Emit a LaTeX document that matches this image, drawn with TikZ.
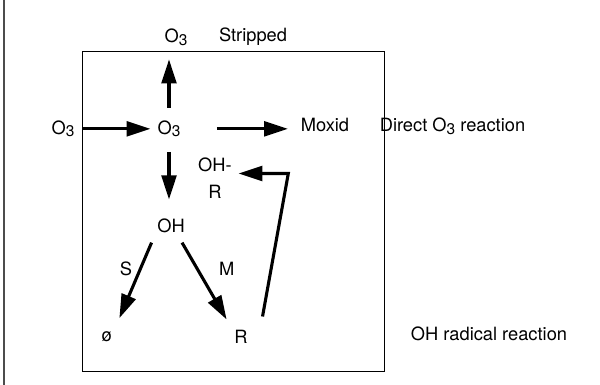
\documentclass[tikz,border=0pt]{standalone}
\usepackage{fontspec}
\setmainfont{TeX Gyre Heros}
\usetikzlibrary{arrows.meta}
\newcommand{\Othree}{O\raisebox{-1.5pt}{\fontsize{11}{13}\selectfont 3}}
\begin{document}
\begin{tikzpicture}[x=0.025cm,y=-0.025cm,
  every node/.style={font=\fontsize{13}{15.6}\selectfont,inner sep=2pt},
  lbl/.style={anchor=base},
  arr/.style={-{Triangle[length=17pt,width=10.5pt]},line width=2.2pt}]
  \useasboundingbox (0,0) rectangle (600,385);
  \draw[line width=0.8pt,black!70] (4,0) -- (4,385);
  \draw[line width=0.7pt] (82,51.7) rectangle (384.3,371);
  \node[lbl] (ostrip) at (176,43) {\Othree};
  \node[lbl] (stripped) at (253,42) {Stripped};
  \node[lbl] (o3in) at (63,134.5) {\Othree};
  \node[lbl] (o3c) at (169,134.5) {\Othree};
  \node[lbl] (moxid) at (325,132) {Moxid};
  \node[lbl] (direct) at (452.5,132) {Direct \Othree{} reaction};
  \node[align=center] (ohr) at (215,177.9) {OH-\\[3.6pt]R};
  \node[lbl] (oh) at (171,233) {OH};
  \node[lbl] (slab) at (126,276) {S};
  \node[lbl] (mlab) at (226.7,276) {M};
  \node[lbl] (phi) at (106.7,341.7) {ø};
  \node[lbl] (rr) at (241,344) {R};
  \node[lbl] (ohrad) at (489,341) {OH radical reaction};
  \coordinate (bend) at (288.3,173.5);
  \draw[arr,shorten <=3.2pt,shorten >=2.8pt] (o3in.east) -- (o3c.west);
  \draw[arr,shorten <=23.7pt,shorten >=7pt] (o3c.east) -- (o3c.east -| moxid.west);
  \draw[arr,shorten <=7pt,shorten >=7.8pt] (o3c.north) -- (o3c.north |- ostrip.south);
  \draw[arr,shorten <=8.5pt,shorten >=12pt] (o3c.south) -- (o3c.south |- oh.north);
  \draw[arr,shorten <=4.8pt,shorten >=8.2pt] (oh.south west) -- (phi.north east);
  \draw[arr,shorten <=5.1pt,shorten >=6.7pt] ([xshift=5.3pt]oh.south) -- (rr.north west);
  \draw[arr,shorten <=8pt,shorten >=2.6pt] ([xshift=7pt]rr.north east) -- (bend) -- (bend -| ohr.east);
\end{tikzpicture}
\end{document}
